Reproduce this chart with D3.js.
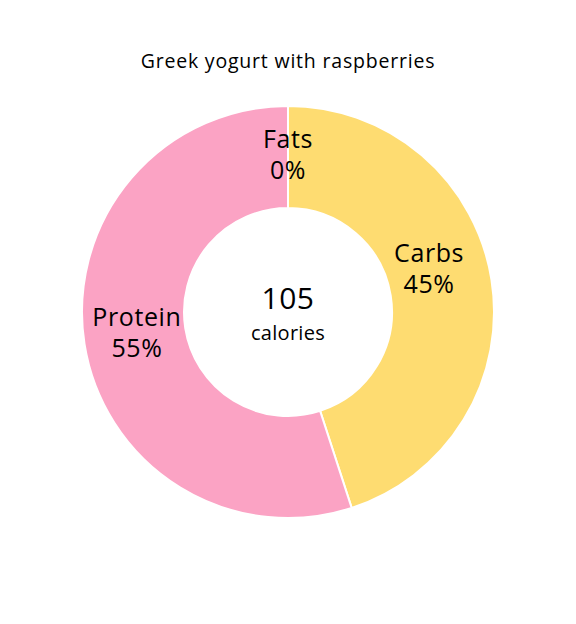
<!DOCTYPE html>
<html><head><meta charset="utf-8">
<script src="https://cdn.jsdelivr.net/npm/d3@7"></script>
<style>body{margin:0;background:#fff}svg{display:block}text{font-family:"Open Sans",sans-serif;fill:#000}</style>
</head><body><svg id="c" width="576" height="624"></svg>
<script>
const title = "Greek yogurt with raspberries";
const categories = ["Fats", "Carbs", "Protein"];
const values = [0, 45, 55];
const colors = ["#FEDC71", "#FEDC71", "#FBA3C4"];
const totalCalories = 105;
const centerLabel = "calories";

const svg = d3.select("#c");
const cx = 288, cy = 312, rOuter = 206, rInner = 104;
svg.append("text").attr("x", 288).attr("y", 68).attr("text-anchor", "middle")
  .style("font-size", "19.5px").style("letter-spacing", "0.8px").text(title);

const data = categories.map((c, i) => ({cat: c, val: values[i], color: colors[i]}));
const pie = d3.pie().sort(null).value(d => d.val);
const arcs = pie(data);
const arc = d3.arc().innerRadius(rInner).outerRadius(rOuter);
const g = svg.append("g").attr("transform", `translate(${cx},${cy})`);
g.selectAll("path").data(arcs).join("path")
  .attr("d", arc).attr("fill", d => d.data.color)
  .attr("stroke", "#fff").attr("stroke-width", 2);

const labelArc = d3.arc().innerRadius(155).outerRadius(155);
const nudge = {Fats: [0, -3], Carbs: [-12, -20], Protein: [2, -4]};
arcs.forEach(a => {
  const [x, y] = labelArc.centroid(a);
  const n = nudge[a.data.cat];
  const t = g.append("text").attr("text-anchor", "middle")
    .attr("transform", `translate(${x + n[0]},${y + n[1]})`)
    .style("font-size", "25px").style("letter-spacing", "0.6px");
  t.append("tspan").attr("x", 0).attr("y", -6).text(a.data.cat);
  t.append("tspan").attr("x", 0).attr("y", 25).text(a.data.val + "%");
});

g.append("text").attr("text-anchor", "middle").attr("y", -3)
  .style("font-size", "30px").style("letter-spacing", "0.5px").text(totalCalories);
g.append("text").attr("text-anchor", "middle").attr("y", 28)
  .style("font-size", "20px").style("letter-spacing", "0.3px").text(centerLabel);
</script></body></html>
